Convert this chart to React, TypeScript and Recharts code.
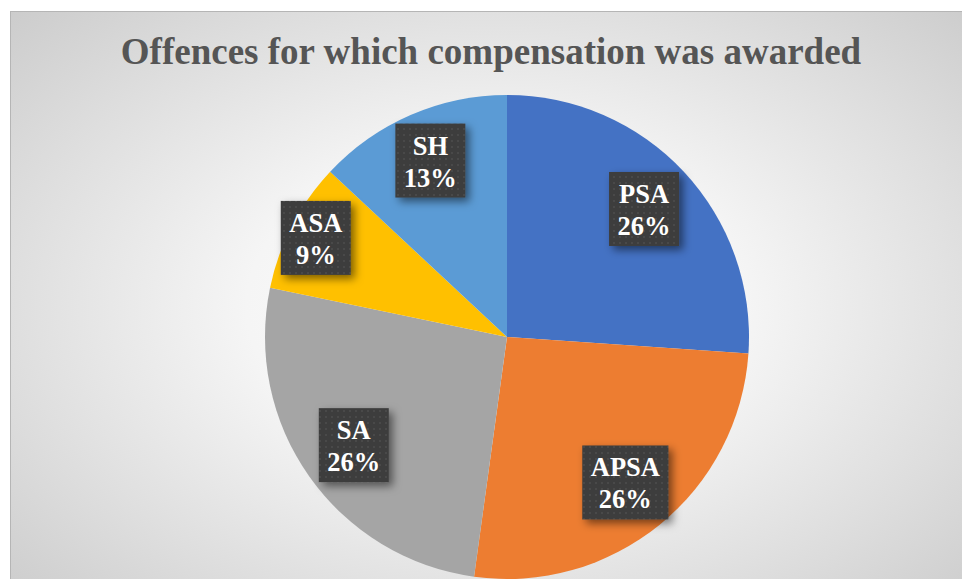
import { PieChart, Pie, Cell } from "recharts";

const offences = ["PSA", "APSA", "SA", "ASA", "SH"];
const awarded = [6, 6, 6, 2, 3];
const sliceColors = ["#4472C4", "#ED7D31", "#A5A5A5", "#FFC000", "#5B9BD5"];

const data = offences.map((name, i) => ({ name, value: awarded[i] }));

const RADIAN = Math.PI / 180;
const SERIF = "'Liberation Serif', 'Times New Roman', serif";
const LABEL_SIZE = 26.5;

// Times-bold style advance widths (em)
const glyphEm: Record<string, number> = {
  A: 0.722, P: 0.611, S: 0.556, H: 0.778, "%": 1.0,
};
const textW = (s: string) =>
  s.split("").reduce((w, c) => w + (glyphEm[c] ?? 0.5), 0) * LABEL_SIZE;

function renderLabel(props: any) {
  const { cx, cy, midAngle, outerRadius, percent, name } = props;
  // small slices get their label pushed outward
  const k = percent < 0.1 ? 0.89 : percent < 0.2 ? 0.795 : 0.775;
  const r = outerRadius * k;
  const x = cx + r * Math.cos(-midAngle * RADIAN);
  const y = cy + r * Math.sin(-midAngle * RADIAN);
  const pct = `${Math.round(percent * 100)}%`;
  const w = Math.max(textW(name), textW(pct)) + 17;
  const h = 74;
  return (
    <g>
      <rect
        x={x - w / 2}
        y={y - h / 2}
        width={w}
        height={h}
        fill="url(#dotPat)"
        filter="url(#boxShadow)"
      />
      <text x={x} y={y - 6} textAnchor="middle" fill="#ffffff"
        fontFamily={SERIF} fontWeight="bold" fontSize={LABEL_SIZE}>
        {name}
      </text>
      <text x={x} y={y + 26} textAnchor="middle" fill="#ffffff"
        fontFamily={SERIF} fontWeight="bold" fontSize={LABEL_SIZE}>
        {pct}
      </text>
    </g>
  );
}

export default function App() {
  return (
    <div>
      <svg width={0} height={0} style={{ position: "absolute" }}>
        <defs>
          <pattern id="dotPat" width={6} height={6} patternUnits="userSpaceOnUse">
            <rect width={6} height={6} fill="#3d3d3d" />
            <circle cx={3} cy={3} r={1.1} fill="#4d4d4d" />
          </pattern>
          <filter id="boxShadow" x="-30%" y="-30%" width="170%" height="170%">
            <feDropShadow dx={4} dy={4} stdDeviation={4} floodColor="#000" floodOpacity={0.5} />
          </filter>
        </defs>
      </svg>
      <div
        style={{
          position: "absolute",
          left: 10,
          top: 11,
          width: 952,
          height: 568,
          borderTop: "1px solid #b5b5b5",
          borderLeft: "1px solid #b5b5b5",
          boxSizing: "border-box",
          background:
            "radial-gradient(ellipse 75% 80% at 51% 52%, #ffffff 0%, #f5f5f5 35%, #dddddd 70%, #c8c8c8 100%)",
          overflow: "hidden",
        }}
      >
        <div
          style={{
            position: "absolute",
            left: 4,
            top: 18,
            width: 952,
            textAlign: "center",
            fontFamily: SERIF,
            fontWeight: "bold",
            fontSize: 37,
            color: "#555555",
            whiteSpace: "nowrap",
          }}
        >
          Offences for which compensation was awarded
        </div>
        <div style={{ position: "absolute", left: 0, top: 0 }}>
          <PieChart width={952} height={568}>
            <Pie
              data={data}
              dataKey="value"
              nameKey="name"
              cx={491}
              cy={320}
              outerRadius={242}
              startAngle={90}
              endAngle={-270}
              stroke="none"
              labelLine={false}
              label={renderLabel}
              isAnimationActive={false}
            >
              {data.map((d, i) => (
                <Cell key={d.name} fill={sliceColors[i]} />
              ))}
            </Pie>
          </PieChart>
        </div>
      </div>
    </div>
  );
}
